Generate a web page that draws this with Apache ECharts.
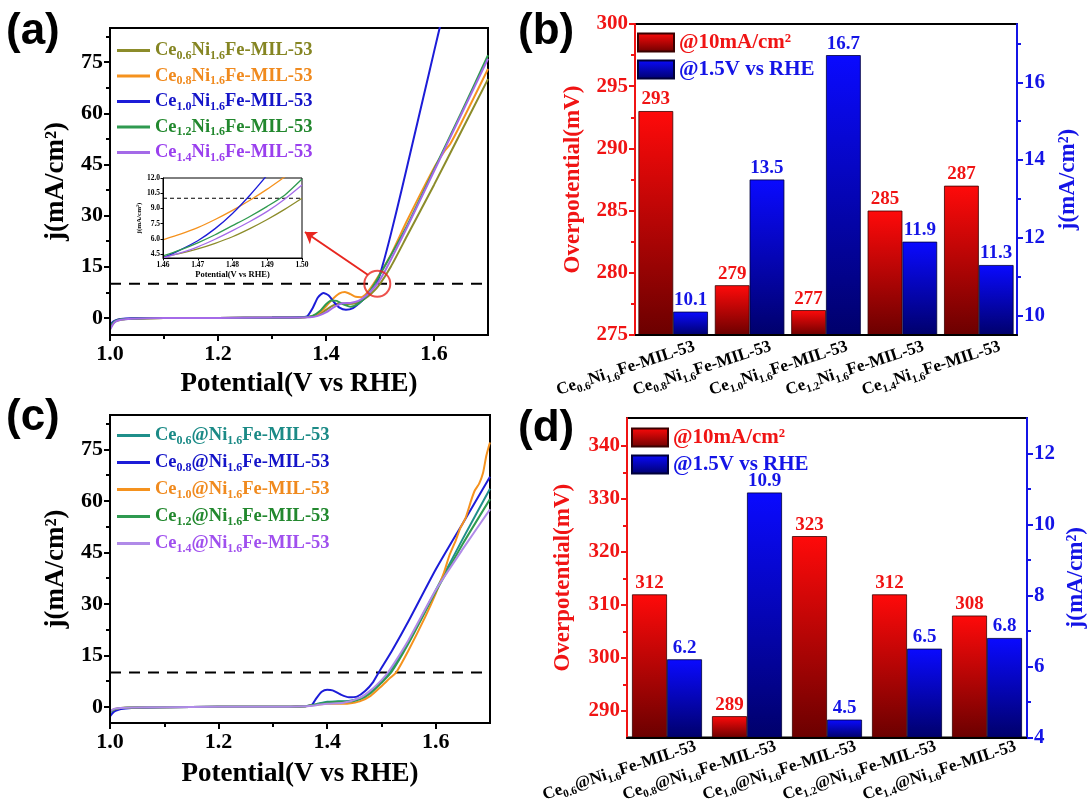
<!DOCTYPE html>
<html><head><meta charset="utf-8">
<script src="https://cdn.jsdelivr.net/npm/echarts@6/dist/echarts.min.js"></script>
<style>html,body{margin:0;padding:0;background:#fff}#c{width:1089px;height:807px}</style>
</head><body><div id="c"></div>
<script>
// ================= DATA =================
// Panel (a): LSV curves, potential (V vs RHE) / current density (mA/cm2)
const namesA = ['Ce0.6Ni1.6Fe-MIL-53','Ce0.8Ni1.6Fe-MIL-53','Ce1.0Ni1.6Fe-MIL-53','Ce1.2Ni1.6Fe-MIL-53','Ce1.4Ni1.6Fe-MIL-53'];
const a06V = [1.0,1.005,1.01,1.02,1.04,1.1,1.2,1.3,1.36,1.38,1.395,1.41,1.425,1.44,1.455,1.47,1.485,1.50,1.52,1.55,1.60,1.65,1.70];
const a06J = [-3.2,-1.8,-1.0,-0.5,-0.2,0,0,0.1,0.2,0.6,1.8,3.4,4.4,4.1,4.3,5.4,7.3,10,15,24,39,54.5,70];
const a08V = [1.0,1.005,1.01,1.02,1.04,1.1,1.2,1.3,1.36,1.38,1.395,1.41,1.425,1.435,1.445,1.455,1.465,1.475,1.488,1.50,1.52,1.55,1.60,1.62,1.63,1.65,1.70];
const a08J = [-2.5,-1.4,-0.8,-0.4,-0.2,0,0,0.1,0.2,0.8,2.5,5.2,7.2,7.6,7.0,6.2,6.1,7.2,10,13,18.5,28.5,44,49,51,57,73];
const a10V = [1.0,1.005,1.01,1.02,1.04,1.1,1.2,1.3,1.35,1.365,1.375,1.385,1.395,1.405,1.415,1.425,1.437,1.45,1.465,1.48,1.494,1.505,1.52,1.54,1.56,1.58,1.60,1.615];
const a10J = [-2.2,-1.2,-0.7,-0.3,-0.1,0,0,0.1,0.2,0.5,2.8,6,7.3,6.6,4.6,3.0,2.4,2.9,4.8,7.5,10,15.5,24.5,37.5,51,64.5,78,88];
const a12V = [1.0,1.005,1.01,1.02,1.04,1.1,1.2,1.3,1.36,1.375,1.39,1.40,1.41,1.42,1.432,1.446,1.46,1.475,1.49,1.51,1.55,1.60,1.65,1.70];
const a12J = [-2.6,-1.5,-0.9,-0.4,-0.2,0,0,0.1,0.2,0.6,2.2,4.0,5.1,5.0,4.0,3.3,4.2,6.4,10,15.5,27,43.5,60,77];
const a14V = [1.0,1.005,1.01,1.02,1.04,1.1,1.2,1.3,1.37,1.385,1.40,1.415,1.43,1.445,1.46,1.475,1.485,1.495,1.51,1.55,1.60,1.65,1.70];
const a14J = [-3.5,-2.0,-1.1,-0.5,-0.2,0,0,0.1,0.2,0.6,1.6,3.2,4.3,4.4,5.0,6.6,8.2,10,14,26.5,43,59.5,76];
// Inset of (a)
const insetV  = [1.46,1.465,1.47,1.475,1.48,1.485,1.49,1.495,1.50];
const ins06J = [4.2,4.55,5.0,5.55,6.2,7.0,7.9,8.9,10.0];
const ins08J = [5.9,6.45,7.1,7.9,8.8,9.8,10.9,12.1,13.3];
const ins10J = [4.1,4.9,5.8,7.0,8.5,10.3,12.3,14.4,16.6];
const ins12J = [4.3,4.9,5.6,6.4,7.3,8.2,9.2,10.3,11.9];
const ins14J = [4.1,4.6,5.2,5.95,6.8,7.7,8.7,9.9,11.3];

// Panel (c)
const namesC = ['Ce0.6@Ni1.6Fe-MIL-53','Ce0.8@Ni1.6Fe-MIL-53','Ce1.0@Ni1.6Fe-MIL-53','Ce1.2@Ni1.6Fe-MIL-53','Ce1.4@Ni1.6Fe-MIL-53'];
const c06V = [1.0,1.005,1.01,1.02,1.04,1.1,1.2,1.3,1.36,1.38,1.40,1.42,1.44,1.46,1.48,1.50,1.515,1.55,1.60,1.65,1.70];
const c06J = [-1.6,-1.0,-0.7,-0.4,-0.2,-0.1,0,0,0.2,0.8,1.5,1.6,1.7,2.5,4.4,7.4,10,19,34,49,63.5];
const c08V = [1.0,1.005,1.01,1.02,1.04,1.1,1.2,1.3,1.36,1.372,1.38,1.39,1.40,1.41,1.425,1.44,1.455,1.47,1.485,1.495,1.52,1.55,1.60,1.65,1.70];
const c08J = [-2.8,-1.8,-1.2,-0.6,-0.3,-0.1,0,0,0.2,0.6,2.5,4.4,5.0,4.8,3.6,2.8,3.0,4.6,7.3,10,16.5,25,40,53.5,67];
const c10V = [1.0,1.005,1.01,1.02,1.04,1.1,1.2,1.3,1.36,1.38,1.40,1.42,1.44,1.46,1.48,1.50,1.515,1.527,1.55,1.58,1.60,1.615,1.625,1.637,1.645,1.655,1.665,1.672,1.68,1.687,1.693,1.698,1.70];
const c10J = [-1.4,-0.9,-0.6,-0.3,-0.2,-0.1,0,0,0.2,0.6,0.9,0.9,1.0,1.6,3.2,6.0,8.3,10,16.5,26,33,39,44,48.5,52,55,60,63,65,68,73,76,77];
const c12V = [1.0,1.005,1.01,1.02,1.04,1.1,1.2,1.3,1.36,1.38,1.40,1.42,1.44,1.46,1.48,1.50,1.518,1.55,1.60,1.65,1.70];
const c12J = [-1.5,-0.9,-0.6,-0.3,-0.2,-0.1,0,0,0.2,0.7,1.3,1.5,1.5,2.2,4.0,7.0,10,18.5,33.5,47.5,60.5];
const c14V = [1.0,1.005,1.01,1.02,1.04,1.1,1.2,1.3,1.36,1.38,1.40,1.43,1.46,1.48,1.50,1.512,1.55,1.60,1.65,1.70];
const c14J = [-1.3,-0.8,-0.5,-0.3,-0.2,-0.1,0,0,0.2,0.5,0.9,1.2,2.6,4.8,7.8,10,19.5,34,46,57.5];

// Reference line and annotation
const refJ = 10;                       // dashed line at 10 mA/cm2
const circlePt = [1.495, 10];
const arrowFrom = [1.478, 12.6], arrowTo = [1.361, 25.2];

// Panel (b) bars
const catsB = namesA;
const overB = [293, 279, 277, 285, 287];
const jB    = [10.1, 13.5, 16.7, 11.9, 11.3];
// Panel (d) bars
const catsD = namesC;
const overD = [312, 289, 323, 312, 308];
const jD    = [6.2, 10.9, 4.5, 6.5, 6.8];

// Tick values
const ticksLsvY = [0,15,30,45,60,75], minorLsvY = [7.5,22.5,37.5,52.5,67.5,82.5];
const ticksLsvX = [1.0,1.2,1.4,1.6], minorLsvX = [1.1,1.3,1.5];
const ticksInsX = [1.46,1.47,1.48,1.49,1.50], ticksInsY = [4.5,6.0,7.5,9.0,10.5,12.0];
const ticksBL = [275,280,285,290,295,300], minorBL = [277.5,282.5,287.5,292.5,297.5];
const ticksBR = [10,12,14,16], minorBR = [11,13,15,17];
const ticksDL = [290,300,310,320,330,340], minorDL = [295,305,315,325,335];
const ticksDR = [4,6,8,10,12], minorDR = [5,7,9,11];

// ================= STYLE =================
const SERIF = '"Liberation Serif","Times New Roman",serif';
const SANS = '"Liberation Sans",Arial,sans-serif';
const RED = '#f01414', BLUE = '#1414e6';
const lineColA = ['#8c8c2a','#f5921e','#1c1cd8','#2f9a50','#a46ae8'];
const textColA = ['#858522','#f08a1e','#1414c8','#22882e','#9a40ee'];
const lineColC = ['#1f8f8a','#1c1cd8','#f5921e','#2f9a50','#b08ae8'];
const textColC = ['#1b8a86','#1414c8','#f08a1e','#22882e','#a050ee'];
const redGrad = {type:'linear',x:0,y:0,x2:0,y2:1,colorStops:[{offset:0,color:'#ff0a0a'},{offset:1,color:'#6b0000'}]};
const blueGrad = {type:'linear',x:0,y:0,x2:0,y2:1,colorStops:[{offset:0,color:'#0a0aff'},{offset:1,color:'#00006b'}]};

function zip(v, j) { return v.map((x, i) => [x, j[i]]); }
function richName(name, m, s) {
  return name.split(/(\d\.\d)/).map((p, i) => p ? (i % 2 ? `{${s}|${p}}` : `{${m}|${p}}`) : '').join('');
}

const grids = [
  {left:110, top:28, width:378, height:307, show:true, borderColor:'#000', borderWidth:2},   // a
  {left:635, top:24, width:382, height:311, show:true, borderColor:'#000', borderWidth:2},   // b
  {left:110, top:415, width:380, height:308, show:true, borderColor:'#000', borderWidth:2},  // c
  {left:627, top:418, width:400, height:324, show:true, borderColor:'#000', borderWidth:2},  // d
  {left:163, top:178, width:139, height:80, show:true, borderColor:'#000', borderWidth:1, backgroundColor:'#fff'} // inset
];

const xAxis = [], yAxis = [];
function valAxes(list, o) {
  const base = {type:'value', gridIndex:o.g, position:o.pos, min:o.min, max:o.max, splitLine:{show:false}, z:5};
  const lw = o.lw || 2;
  list.push(Object.assign({}, base, {
    axisLine:{show:true, onZero:false, lineStyle:{color:o.color, width:lw}},
    axisTick:{show:true, customValues:o.major, length:o.tl, lineStyle:{color:o.color, width:lw}},
    axisLabel:{show:true, customValues:o.major, formatter:o.fmt, color:o.color, fontSize:o.fs, fontWeight:'bold', fontFamily:SERIF, margin:o.margin},
    name:o.name || '', nameLocation:'middle', nameGap:o.nameGap,
    nameTextStyle:{color:o.color, fontSize:o.nfs, fontWeight:'bold', fontFamily:SERIF}
  }));
  const idx = list.length - 1;
  if (o.minor) list.push(Object.assign({}, base, {
    axisLine:{show:false, onZero:false},
    axisTick:{show:true, customValues:o.minor, length:Math.round(o.tl*0.6), lineStyle:{color:o.color, width:lw}},
    axisLabel:{show:false}
  }));
  return idx;
}
function catAxes(g, cats) {
  const rich = {
    m:{fontSize:17, fontWeight:'bold', fontFamily:SERIF, color:'#000', lineHeight:22},
    s:{fontSize:11, fontWeight:'bold', fontFamily:SERIF, color:'#000', lineHeight:10, verticalAlign:'bottom'},
    sp:{width:100}
  };
  xAxis.push({type:'category', gridIndex:g, position:'bottom', data:cats, z:5,
    axisLine:{onZero:false, lineStyle:{color:'#000', width:2}},
    axisTick:{alignWithLabel:true, length:6, lineStyle:{color:'#000', width:2}},
    axisLabel:{interval:0, rotate:18, align:'center', margin:18, formatter:v => richName(v,'m','s') + '{sp| }', rich}
  });
  const idx = xAxis.length - 1;
  xAxis.push({type:'category', gridIndex:g, position:'bottom', data:cats, z:5,
    axisLine:{show:false, onZero:false}, axisTick:{length:5, lineStyle:{color:'#000', width:2}}, axisLabel:{show:false}});
  return idx;
}

const f1 = v => v.toFixed(1), f2 = v => v.toFixed(2), f0 = v => String(v);

// (a)
const axA = valAxes(xAxis, {g:0, pos:'bottom', min:1.0, max:1.7, major:ticksLsvX, minor:minorLsvX, tl:6, color:'#000', fs:22, fmt:f1, margin:8,
  name:'Potential(V vs RHE)', nameGap:36, nfs:27});
const ayA = valAxes(yAxis, {g:0, pos:'left', min:-5, max:85, major:ticksLsvY, minor:minorLsvY, tl:6, color:'#000', fs:22, fmt:f0, margin:7,
  name:'j(mA/cm²)', nameGap:40, nfs:27});
// (b)
const bxB = catAxes(1, catsB);
const ylB = valAxes(yAxis, {g:1, pos:'left', min:275, max:300, major:ticksBL, minor:minorBL, tl:6, color:RED, fs:21, fmt:f0, margin:7,
  name:'Overpotential(mV)', nameGap:50, nfs:23});
const yrB = valAxes(yAxis, {g:1, pos:'right', min:9.5, max:17.5, major:ticksBR, minor:minorBR, tl:6, color:BLUE, fs:21, fmt:f0, margin:7,
  name:'j(mA/cm²)', nameGap:40, nfs:23});
// (c)
const axC = valAxes(xAxis, {g:2, pos:'bottom', min:1.0, max:1.7, major:ticksLsvX, minor:minorLsvX, tl:6, color:'#000', fs:22, fmt:f1, margin:8,
  name:'Potential(V vs RHE)', nameGap:38, nfs:27});
const ayC = valAxes(yAxis, {g:2, pos:'left', min:-4.7, max:85, major:ticksLsvY, minor:minorLsvY, tl:6, color:'#000', fs:22, fmt:f0, margin:7,
  name:'j(mA/cm²)', nameGap:40, nfs:27});
// (d)
const bxD = catAxes(3, catsD);
const ylD = valAxes(yAxis, {g:3, pos:'left', min:285, max:345.3, major:ticksDL, minor:minorDL, tl:6, color:RED, fs:21, fmt:f0, margin:7,
  name:'Overpotential(mV)', nameGap:52, nfs:23});
const yrD = valAxes(yAxis, {g:3, pos:'right', min:4, max:13, major:ticksDR, minor:minorDR, tl:6, color:BLUE, fs:21, fmt:f0, margin:7,
  name:'j(mA/cm²)', nameGap:38, nfs:23});
// inset
const axI = valAxes(xAxis, {g:4, pos:'bottom', min:1.46, max:1.50, major:ticksInsX, tl:2.5, lw:1, color:'#000', fs:7.5, fmt:f2, margin:3,
  name:'Potential(V vs RHE)', nameGap:12, nfs:8.5});
const ayI = valAxes(yAxis, {g:4, pos:'left', min:4.1, max:12, major:ticksInsY, tl:2.5, lw:1, color:'#000', fs:7.5, fmt:f1, margin:3,
  name:'j(mA/cm²)', nameGap:17, nfs:7});

const series = [];
function lineSeries(name, data, color, xi, yi, w) {
  series.push({type:'line', name, data, xAxisIndex:xi, yAxisIndex:yi, symbol:'none', showSymbol:false,
    smooth:0.2, clip:true, lineStyle:{color, width:w}, itemStyle:{color}, z:3});
}
function dashSeries(xi, yi, x0, x1, w, dash) {
  series.push({type:'line', name:'_ref', data:[[x0, refJ],[x1, refJ]], xAxisIndex:xi, yAxisIndex:yi, symbol:'none',
    lineStyle:{color:'#000', width:w, type:dash}, silent:true, z:2});
}
// (a)
dashSeries(axA, ayA, 1.0, 1.7, 2, [11, 8]);
[[a06V,a06J],[a08V,a08J],[a10V,a10J],[a12V,a12J],[a14V,a14J]].forEach((p, i) => lineSeries(namesA[i], zip(p[0], p[1]), lineColA[i], axA, ayA, 2));
// inset
dashSeries(axI, ayI, 1.46, 1.50, 1, [4, 3]);
[ins06J, ins08J, ins10J, ins12J, ins14J].forEach((j, i) => lineSeries('_ins' + i, zip(insetV, j), lineColA[i], axI, ayI, 1.3));
// annotation circle + arrow
series.push({type:'scatter', name:'_circle', xAxisIndex:axA, yAxisIndex:ayA, data:[circlePt], symbol:'circle', symbolSize:26, silent:true,
  itemStyle:{color:'rgba(0,0,0,0)', borderColor:'#e8261f', borderWidth:2}, z:6});
series.push({type:'lines', name:'_arrow', coordinateSystem:'cartesian2d', xAxisIndex:axA, yAxisIndex:ayA, symbol:['none','arrow'], symbolSize:11,
  lineStyle:{color:'#e8261f', width:2, opacity:1}, data:[{coords:[arrowFrom, arrowTo]}], silent:true, z:6});
// (c)
dashSeries(axC, ayC, 1.0, 1.7, 2, [11, 8]);
[[c06V,c06J],[c08V,c08J],[c10V,c10J],[c12V,c12J],[c14V,c14J]].forEach((p, i) => lineSeries(namesC[i], zip(p[0], p[1]), lineColC[i], axC, ayC, 2));

// bars
const OVER = '@10mA/cm²', JJ = '@1.5V vs RHE';
function barPair(xi, yl, yr, over, jv, gap) {
  const lab = c => ({show:true, position:'top', distance:2, color:c, fontSize:19, fontWeight:'bold', fontFamily:SERIF});
  series.push({type:'bar', name:OVER, xAxisIndex:xi, yAxisIndex:yl, data:over, barGap:'0%', barCategoryGap:gap,
    itemStyle:{color:redGrad, borderColor:'#3a0000', borderWidth:0.8}, label:Object.assign(lab(RED), {formatter:p => String(p.value)}), z:2});
  series.push({type:'bar', name:JJ, xAxisIndex:xi, yAxisIndex:yr, data:jv, barGap:'0%', barCategoryGap:gap,
    itemStyle:{color:blueGrad, borderColor:'#00003a', borderWidth:0.8}, label:Object.assign(lab(BLUE), {formatter:p => p.value.toFixed(1)}), z:2});
}
barPair(bxB, ylB, yrB, overB, jB, '9%');
barPair(bxD, ylD, yrD, overD, jD, '12.5%');

// legends
function lineLegend(names, colors, textCols, left, top, gap) {
  const rich = {};
  textCols.forEach((c, i) => {
    rich['m' + i] = {color:c, fontSize:18.5, fontWeight:'bold', fontFamily:SERIF, lineHeight:22};
    rich['s' + i] = {color:c, fontSize:12, fontWeight:'bold', fontFamily:SERIF, lineHeight:10, verticalAlign:'bottom'};
  });
  return {left, top, orient:'vertical', itemWidth:33, itemHeight:3, itemGap:gap, selectedMode:false, icon:'rect',
    data:names.map((n, i) => ({name:n, itemStyle:{color:colors[i]}})),
    formatter:n => { const i = names.indexOf(n); return richName(n, 'm' + i, 's' + i); },
    textStyle:{rich}};
}
function barLegend(left, top) {
  return {left, top, orient:'vertical', itemWidth:36, itemHeight:18, itemGap:6, selectedMode:false, icon:'rect',
    data:[{name:OVER, textStyle:{color:RED}}, {name:JJ, textStyle:{color:BLUE}}],
    textStyle:{fontSize:21, fontWeight:'bold', fontFamily:SERIF}};
}

const option = {
  animation:false,
  backgroundColor:'#fff',
  grid:grids, xAxis, yAxis, series,
  legend:[lineLegend(namesA, lineColA, textColA, 112, 36, 5), lineLegend(namesC, lineColC, textColC, 112, 421, 6.5), barLegend(632, 27), barLegend(626, 422)],
  graphic:[
    {type:'text', left:6, top:10, style:{text:'(a)', font:'bold 44px ' + SANS, fill:'#000'}},
    {type:'text', left:518, top:10, style:{text:'(b)', font:'bold 44px ' + SANS, fill:'#000'}},
    {type:'text', left:6, top:396, style:{text:'(c)', font:'bold 44px ' + SANS, fill:'#000'}},
    {type:'text', left:518, top:407, style:{text:'(d)', font:'bold 44px ' + SANS, fill:'#000'}}
  ]
};
const chart = echarts.init(document.getElementById('c'), null, {renderer:'canvas'});
chart.setOption(option);
</script></body></html>
